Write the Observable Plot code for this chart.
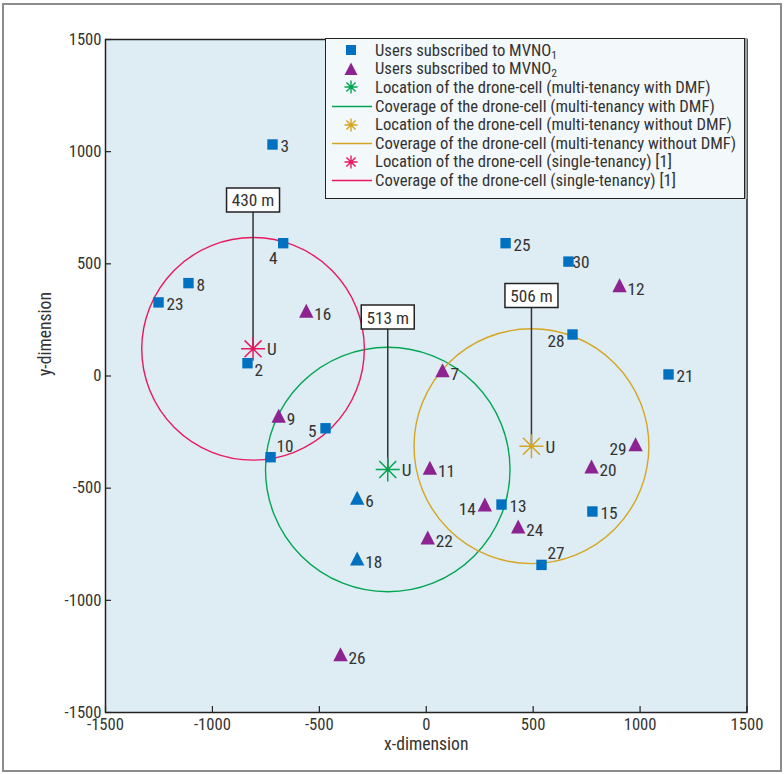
<!DOCTYPE html>
<html>
<head>
<meta charset="utf-8">
<script src="https://cdn.jsdelivr.net/npm/d3@7"></script>
<script src="https://cdn.jsdelivr.net/npm/@observablehq/plot@0.6"></script>
<style>
  body { margin: 0; background: #fff; }
  #wrap { position: relative; width: 784px; height: 774px; overflow: hidden; color: #333; }
  #wrap svg.plot { position: absolute; left: 0; top: 0; }
  #border { position: absolute; left: 2px; top: 3px; width: 776px; height: 765px; border: 2px solid #8c8c8c; pointer-events: none; }
  #legend { position: absolute; left: 325px; top: 38px; width: 418px; height: 157px;
            border: 1.5px solid #222; background: #f3f8fb; box-shadow: 2px 0 0 #a0a0a0; padding-top: 2px; box-sizing: content-box; }
  .row { display: flex; align-items: center; height: 18.6px; white-space: nowrap; }
  .row svg { flex: none; margin-left: 6px; margin-right: 3px; }
  sub { font-size: 70%; line-height: 0; vertical-align: -0.3em; }
  #probe { position: absolute; left: 0; top: 0; visibility: hidden; white-space: nowrap; font-size: 16px; }
</style>
</head>
<body>
<div id="wrap">
  <div id="chart"></div>
  <div id="legend"></div>
  <div id="border"></div>
</div>
<span id="probe"></span>
<script>
// ---------------- data ----------------
const xTicks = [-1500, -1000, -500, 0, 500, 1000, 1500];
const yTicks = [-1500, -1000, -500, 0, 500, 1000, 1500];

// Users subscribed to MVNO1 (squares)
const mvno1Ids = [3, 4, 8, 23, 2, 5, 10, 25, 30, 28, 21, 13, 15, 27];
const mvno1X   = [-719, -669, -1112, -1252, -836, -471, -728, 371, 665, 684, 1133, 352, 777, 539];
const mvno1Y   = [1032, 592, 414, 328, 57, -233, -362, 592, 510, 185, 7, -573, -604, -842];

// Blue triangle users (6 and 18)
const blueTriIds = [6, 18];
const blueTriX   = [-323, -323];
const blueTriY   = [-552, -822];

// Users subscribed to MVNO2 (triangles)
const mvno2Ids = [16, 9, 7, 11, 14, 22, 24, 12, 29, 20, 26];
const mvno2X   = [-561, -690, 76, 17, 274, 7, 430, 904, 979, 773, -401];
const mvno2Y   = [282, -186, 17, -418, -582, -729, -680, 396, -313, -412, -1249];

// Drone cells
const droneCase   = ["multi-tenancy with DMF", "multi-tenancy without DMF", "single-tenancy"];
const droneX      = [-180, 492, -810];
const droneY      = [-417, -313, 121];
const droneRadius = [558, 536, 508];
const droneLabel  = ["513 m", "506 m", "430 m"];
const droneLabelY = [263, 359, 785];

// ---------------- font choice (narrow face) ----------------
const probe = document.getElementById("probe");
const TARGET_TEXT = "Location of the drone-cell (multi-tenancy without DMF)";
const TARGET_W = 357;
function measure(family, stretch, fallback) {
  probe.style.fontFamily = family + ", " + fallback;
  probe.style.fontStretch = stretch;
  probe.textContent = TARGET_TEXT;
  return probe.getBoundingClientRect().width;
}
const candidates = [
  {family: '"Liberation Sans Narrow"', stretch: "normal"},
  {family: '"Open Sans"', stretch: "75%"},
  {family: 'Roboto', stretch: "75%"},
  {family: '"Noto Sans"', stretch: "62.5%"},
  {family: '"Noto Sans"', stretch: "75%"},
  {family: '"DejaVu Sans Condensed"', stretch: "normal"},
  {family: '"DejaVu Sans"', stretch: "condensed"}
];
let best = null;
for (const c of candidates) {
  const a = measure(c.family, c.stretch, "monospace");
  const b = measure(c.family, c.stretch, "serif");
  if (Math.abs(a - b) > 0.5) continue; // not installed
  const score = Math.abs(a - TARGET_W);
  if (!best || score < best.score) best = {...c, w: a, score};
}
probe.remove();
if (!best) best = {family: '"DejaVu Sans"', stretch: "condensed", w: 393};
const FONT = best.family + ', "DejaVu Sans Condensed", sans-serif';
const STRETCH = best.stretch;
const BASE = Math.max(13, Math.min(18, 16 * TARGET_W / best.w));

// ---------------- styles ----------------
const BLUE = "#0070c0", PURPLE = "#8c2390", GREEN = "#00a651", GOLD = "#d6a522", PINK = "#e8195f";
const droneColor = [GREEN, GOLD, PINK];
const LABEL = BASE * 1.04;

const placement = {
  right:      {dx: 8,   dy: 2,   textAnchor: "start"},
  tight:      {dx: 4,   dy: 1,   textAnchor: "start"},
  left:       {dx: -9,  dy: 3,   textAnchor: "end"},
  lowerLeft:  {dx: -8,  dy: 7,   textAnchor: "end"},
  below:      {dx: -10, dy: 15,  textAnchor: "middle"},
  lowerRight: {dx: 7,   dy: 7,   textAnchor: "start"},
  upperRight: {dx: 6,   dy: -11, textAnchor: "start"}
};
const labelPlace = {4: "below", 2: "lowerRight", 5: "left", 14: "left", 29: "left", 28: "lowerLeft", 10: "upperRight", 27: "upperRight", 30: "tight"};

// custom pixel symbols
const squareSym = {draw(c) { c.rect(-5.2, -5.2, 10.4, 10.4); }};
const triSym = {draw(c) { c.moveTo(0, -9); c.lineTo(7.2, 5); c.lineTo(-7.2, 5); c.closePath(); }};
const starSym = {draw(c) {
  const r = 12, d = r * Math.SQRT1_2;
  c.moveTo(-r, 0); c.lineTo(r, 0);
  c.moveTo(0, -r); c.lineTo(0, r);
  c.moveTo(-d, -d); c.lineTo(d, d);
  c.moveTo(-d, d); c.lineTo(d, -d);
}};
const boxSym = {draw(c) { c.rect(-26.5, -12, 53, 24); }};

// ---------------- tables ----------------
const squares = mvno1Ids.map((id, i) => ({id, x: mvno1X[i], y: mvno1Y[i]}));
const blueTris = blueTriIds.map((id, i) => ({id, x: blueTriX[i], y: blueTriY[i]}));
const purpleTris = mvno2Ids.map((id, i) => ({id, x: mvno2X[i], y: mvno2Y[i]}));
const users = [...squares, ...blueTris, ...purpleTris];
const drones = droneCase.map((name, i) => ({name, x: droneX[i], y: droneY[i], r: droneRadius[i],
  label: droneLabel[i], ly: droneLabelY[i], color: droneColor[i]}));

const labelMarks = Object.entries(placement).map(([key, opt]) =>
  Plot.text(users.filter(d => (labelPlace[d.id] || "right") === key),
    {x: "x", y: "y", text: d => String(d.id), fill: "#333", fontSize: LABEL, ...opt}));

const fmt = d => String(d);

const plot = Plot.plot({
  width: 784, height: 774,
  marginLeft: 105, marginRight: 37.5, marginTop: 39, marginBottom: 62,
  x: {domain: [-1500, 1500]},
  y: {domain: [-1500, 1500]},
  r: {type: "linear", domain: [0, 1000], range: [0, 219.1]},
  style: {fontFamily: FONT, fontStretch: STRETCH, fontSize: BASE + "px", color: "#333", background: "transparent", overflow: "visible"},
  marks: [
    Plot.frame({fill: "#deecf4", stroke: "none"}),
    // coverage circles
    Plot.dot(drones, {x: "x", y: "y", r: "r", fill: "none", stroke: "color", strokeWidth: 1.4}),
    // stems to the annotation boxes
    Plot.ruleX(drones, {x: "x", y1: "y", y2: "ly", stroke: "#333", strokeWidth: 1.5}),
    Plot.dot(drones, {x: "x", y: "ly", symbol: boxSym, fill: "white", stroke: "#222", strokeWidth: 1.5}),
    Plot.text(drones, {x: "x", y: "ly", text: "label", fill: "#333", fontSize: LABEL, dy: 1}),
    // drone-cell locations
    Plot.dot(drones, {x: "x", y: "y", symbol: starSym, fill: "none", stroke: "color", strokeWidth: 1.5}),
    Plot.dot(drones, {x: "x", y: "y", r: 2, fill: "color", stroke: null}),
    Plot.text(drones, {x: "x", y: "y", text: () => "U", fill: "#333", fontSize: LABEL, dx: 14, dy: 1, textAnchor: "start"}),
    // users
    Plot.dot(squares, {x: "x", y: "y", symbol: squareSym, fill: BLUE, stroke: null}),
    Plot.dot(blueTris, {x: "x", y: "y", symbol: triSym, fill: BLUE, stroke: null}),
    Plot.dot(purpleTris, {x: "x", y: "y", symbol: triSym, fill: PURPLE, stroke: null}),
    ...labelMarks,
    // axes: labels
    Plot.axisX(xTicks, {tickSize: 0, tickPadding: 6, tickFormat: fmt, label: null, fontSize: BASE, fill: "#333"}),
    Plot.axisY(yTicks, {tickSize: 0, tickPadding: 4, tickFormat: fmt, label: null, fontSize: BASE, fill: "#333"}),
    // axes: inward ticks on bottom and left
    Plot.ruleX(xTicks, {x: d => d, y1: -1500, y2: -1500, insetTop: -6, stroke: "#222", strokeWidth: 1.2}),
    Plot.ruleY(yTicks, {y: d => d, x1: -1500, x2: -1500, insetRight: -6, stroke: "#222", strokeWidth: 1.2}),
    Plot.text(["x-dimension"], {frameAnchor: "bottom", dy: 37, text: d => d, fontSize: BASE * 1.06, fill: "#333"}),
    Plot.text(["y-dimension"], {frameAnchor: "left", dx: -60, rotate: -90, text: d => d, fontSize: BASE * 1.06, fill: "#333"}),
    Plot.frame({stroke: "#222", strokeWidth: 1.5})
  ]
});
plot.classList.add("plot");
document.getElementById("chart").appendChild(plot);

// ---------------- legend ----------------
function icon(kind, color) {
  const ns = "http://www.w3.org/2000/svg";
  const s = document.createElementNS(ns, "svg");
  s.setAttribute("width", 40); s.setAttribute("height", 18);
  let inner = "";
  if (kind === "square") inner = `<rect x="14" y="4" width="10" height="10" fill="${color}"/>`;
  if (kind === "tri") inner = `<path d="M19,2.5L25.5,15L12.5,15Z" fill="${color}"/>`;
  if (kind === "star") {
    const r = 6.5, d = r * Math.SQRT1_2;
    inner = `<path d="M${19 - r},9H${19 + r}M19,${9 - r}V${9 + r}M${19 - d},${9 - d}L${19 + d},${9 + d}M${19 - d},${9 + d}L${19 + d},${9 - d}" stroke="${color}" stroke-width="1.4" fill="none"/><circle cx="19" cy="9" r="1.3" fill="${color}"/>`;
  }
  if (kind === "line") inner = `<line x1="0" x2="40" y1="9.5" y2="9.5" stroke="${color}" stroke-width="1.5"/>`;
  s.innerHTML = inner;
  return s;
}
const legendItems = [
  ["square", BLUE, "Users subscribed to MVNO<sub>1</sub>"],
  ["tri", PURPLE, "Users subscribed to MVNO<sub>2</sub>"],
  ["star", GREEN, `Location of the drone-cell (${droneCase[0]})`],
  ["line", GREEN, `Coverage of the drone-cell (${droneCase[0]})`],
  ["star", GOLD, `Location of the drone-cell (${droneCase[1]})`],
  ["line", GOLD, `Coverage of the drone-cell (${droneCase[1]})`],
  ["star", PINK, `Location of the drone-cell (${droneCase[2]}) [1]`],
  ["line", PINK, `Coverage of the drone-cell (${droneCase[2]}) [1]`]
];
const legend = document.getElementById("legend");
legend.style.fontFamily = FONT;
legend.style.fontStretch = STRETCH;
legend.style.fontSize = BASE + "px";
for (const [kind, color, html] of legendItems) {
  const row = document.createElement("div");
  row.className = "row";
  row.appendChild(icon(kind, color));
  const span = document.createElement("span");
  span.innerHTML = html;
  row.appendChild(span);
  legend.appendChild(row);
}
</script>
</body>
</html>
